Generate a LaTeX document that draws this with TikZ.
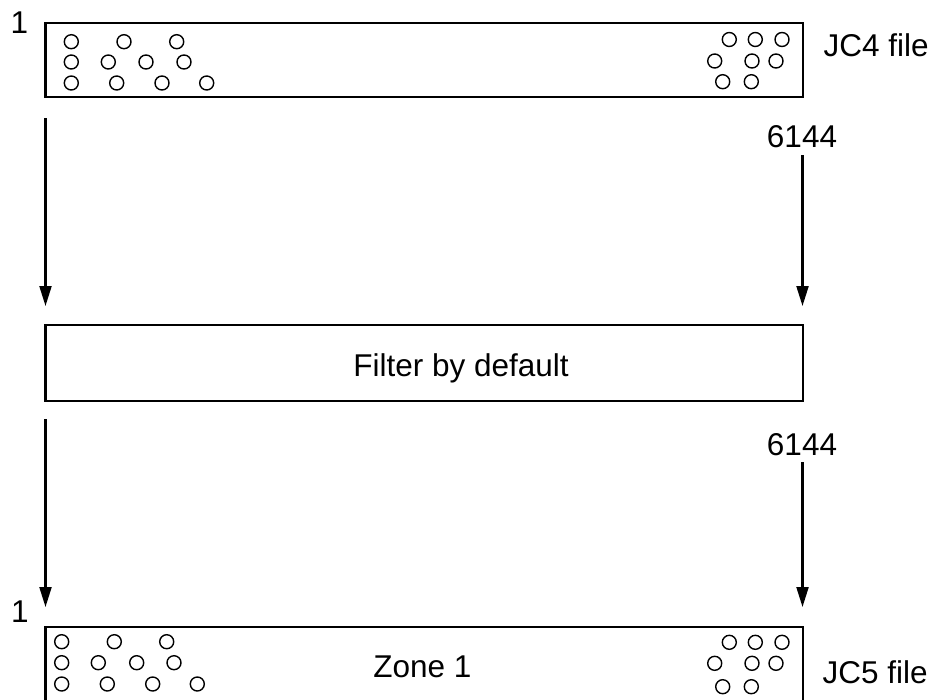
\documentclass[tikz,border=0pt]{standalone}
\usepackage{fontspec}
\setmainfont{Liberation Sans}
\usetikzlibrary{arrows.meta}
\begin{document}
\begin{tikzpicture}[x=1pt,y=-1pt,
  boxline/.style={line width=2.4pt},
  arr/.style={line width=2.1pt,-{Triangle[length=20pt,width=12pt]}},
  dotc/.style={line width=1.4pt},
  lbl/.style={inner sep=0pt,anchor=base,font=\fontsize{31.5}{36}\selectfont}]
\useasboundingbox (0,0) rectangle (936,699);
% top box
\draw[boxline] (45.5,23) rectangle (803,97);
% middle box
\draw[boxline] (45.5,325) rectangle (803,401);
% bottom box (cut at the bottom edge)
\draw[boxline] (45.5,705) -- (45.5,627) -- (803,627) -- (803,705);
% labels
\node[lbl] (one1) at (19.5,33) {1};
\node[lbl] (one2) at (20,622) {1};
\node[lbl,anchor=base west] (jc4) at (823.5,56) {JC4 file};
\node[lbl,anchor=base west] (jc5) at (822.5,683) {JC5 file};
\node[lbl] (n1) at (802,147) {6144};
\node[lbl] (n2) at (802,455) {6144};
\node[lbl] (filt) at (461,376.5) {Filter by default};
\node[lbl] (zone) at (422.5,677) {Zone 1};
% arrows
\coordinate (a1s) at (45.5,118);
\coordinate (a1e) at (45.5,306);
\coordinate (a2s) at (802.5,155);
\coordinate (a2e) at (802.5,306);
\coordinate (a3s) at (45.5,419);
\coordinate (a3e) at (45.5,607);
\coordinate (a4s) at (802.5,462);
\coordinate (a4e) at (802.5,607);
\draw[arr] (a1s) -- (a1e);
\draw[arr] (a2s) -- (a2e);
\draw[arr] (a3s) -- (a3e);
\draw[arr] (a4s) -- (a4e);
% circles top left
\foreach \x/\y in {71.3/41.7,124/41.7,176.7/41.7,
                   71.3/62,108.3/62,146/62,184/62,
                   71.3/83,116.7/83,162/83,206.7/83}
  \draw[dotc] (\x,\y) circle[radius=7];
% circles top right
\foreach \x/\y in {729.3/39.5,755.3/39.5,782/39.5,
                   714.7/61,752/61,776/61,
                   722.7/81.7,751.3/81.7}
  \draw[dotc] (\x,\y) circle[radius=7];
% circles bottom left
\foreach \x/\y in {61.7/641.7,114.3/641.7,166.7/641.7,
                   61.7/662.7,98.3/662.7,136.7/662.7,174/662.7,
                   61.7/684,107.3/684,152.7/684,197.3/684}
  \draw[dotc] (\x,\y) circle[radius=7];
% circles bottom right
\foreach \x/\y in {729.3/642.3,755.3/642.3,782/642.3,
                   714.7/663.3,752/663.3,776/663.3,
                   722.7/686.7,751.3/686.7}
  \draw[dotc] (\x,\y) circle[radius=7];
\end{tikzpicture}
\end{document}
